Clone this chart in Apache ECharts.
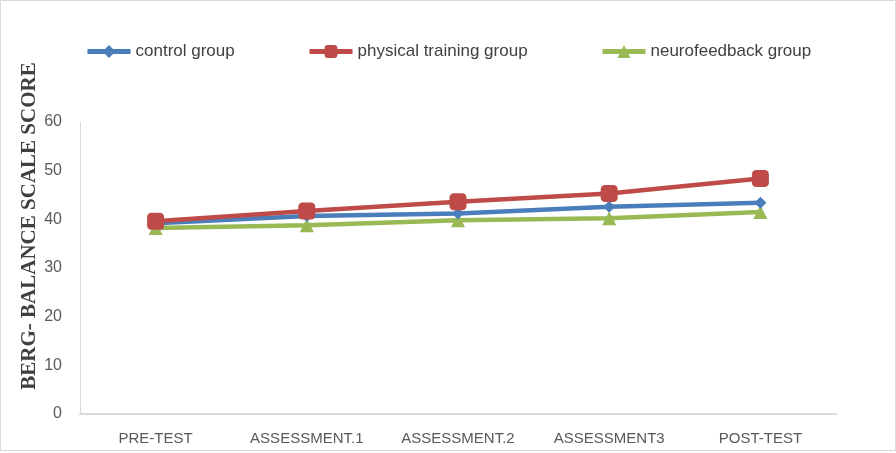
<!DOCTYPE html>
<html><head><meta charset="utf-8">
<script src="https://cdn.jsdelivr.net/npm/echarts@6/dist/echarts.min.js"></script>
<style>html,body{margin:0;padding:0;background:#fff}#c{width:896px;height:453px}</style>
</head><body><div id="c"></div>
<script>
const categories = ['PRE-TEST', 'ASSESSMENT.1', 'ASSESSMENT.2', 'ASSESSMENT3', 'POST-TEST'];
const controlGroup = [39.2, 40.7, 41.2, 42.6, 43.4];
const physicalTraining = [39.6, 41.7, 43.6, 45.3, 48.4];
const neurofeedback = [38.2, 38.8, 39.8, 40.2, 41.5];
const yTicks = [0, 10, 20, 30, 40, 50, 60];
const yTitle = 'BERG- BALANCE SCALE SCORE';

const chart = echarts.init(document.getElementById('c'), null, {renderer: 'canvas'});
const legendText = {fontFamily: 'Liberation Sans Narrow, Liberation Sans, sans-serif', fontSize: 17, color: '#404040'};
function leg(name, left, color) {
  return {data: [{name: name, lineStyle: {width: 5, color: color}}], left: left, top: 43, itemWidth: 43, itemHeight: 16,
          itemGap: 3, textStyle: legendText, padding: 0, selectedMode: false};
}
chart.setOption({
  animation: false,
  graphic: [
    {type: 'rect', shape: {x: 0.5, y: 0.5, width: 895, height: 450}, style: {fill: 'none', stroke: '#d9d9d9', lineWidth: 1}, silent: true},
    {type: 'text', x: 30, y: 226, rotation: Math.PI / 2, silent: true,
     style: {text: yTitle, fontFamily: 'Liberation Serif, serif', fontWeight: 'bold', fontSize: 21, fill: '#404040',
             align: 'center', verticalAlign: 'middle'}}
  ],
  legend: [leg('control group', 85, '#4a7ebb'), leg('physical training group', 307, '#be4b48'), leg('neurofeedback group', 600, '#98b954')],
  grid: {left: 80, right: 60, top: 122, bottom: 39, containLabel: false},
  xAxis: {
    type: 'category', data: categories, boundaryGap: true,
    axisLine: {lineStyle: {color: '#d9d9d9', width: 2}},
    axisTick: {show: false},
    axisLabel: {fontFamily: 'Liberation Sans, sans-serif', fontSize: 15, color: '#595959', margin: 17}
  },
  yAxis: {
    type: 'value', min: yTicks[0], max: yTicks[yTicks.length - 1], interval: 10,
    axisLine: {show: true, lineStyle: {color: '#d9d9d9', width: 1}},
    axisTick: {show: false},
    splitLine: {show: false},
    axisLabel: {fontFamily: 'Liberation Sans, sans-serif', fontSize: 16, color: '#595959', margin: 18}
  },
  series: [
    {name: 'control group', type: 'line', data: controlGroup, symbol: 'diamond', symbolSize: 12,
     lineStyle: {color: '#4a7ebb', width: 4.5}, itemStyle: {color: '#4a7ebb'}, z: 3},
    {name: 'physical training group', type: 'line', data: physicalTraining, symbol: 'roundRect', symbolSize: 17,
     lineStyle: {color: '#be4b48', width: 4.5}, itemStyle: {color: '#be4b48'}, z: 4},
    {name: 'neurofeedback group', type: 'line', data: neurofeedback, symbol: 'triangle', symbolSize: 14,
     lineStyle: {color: '#98b954', width: 4.5}, itemStyle: {color: '#98b954'}, z: 2}
  ]
});
</script></body></html>
